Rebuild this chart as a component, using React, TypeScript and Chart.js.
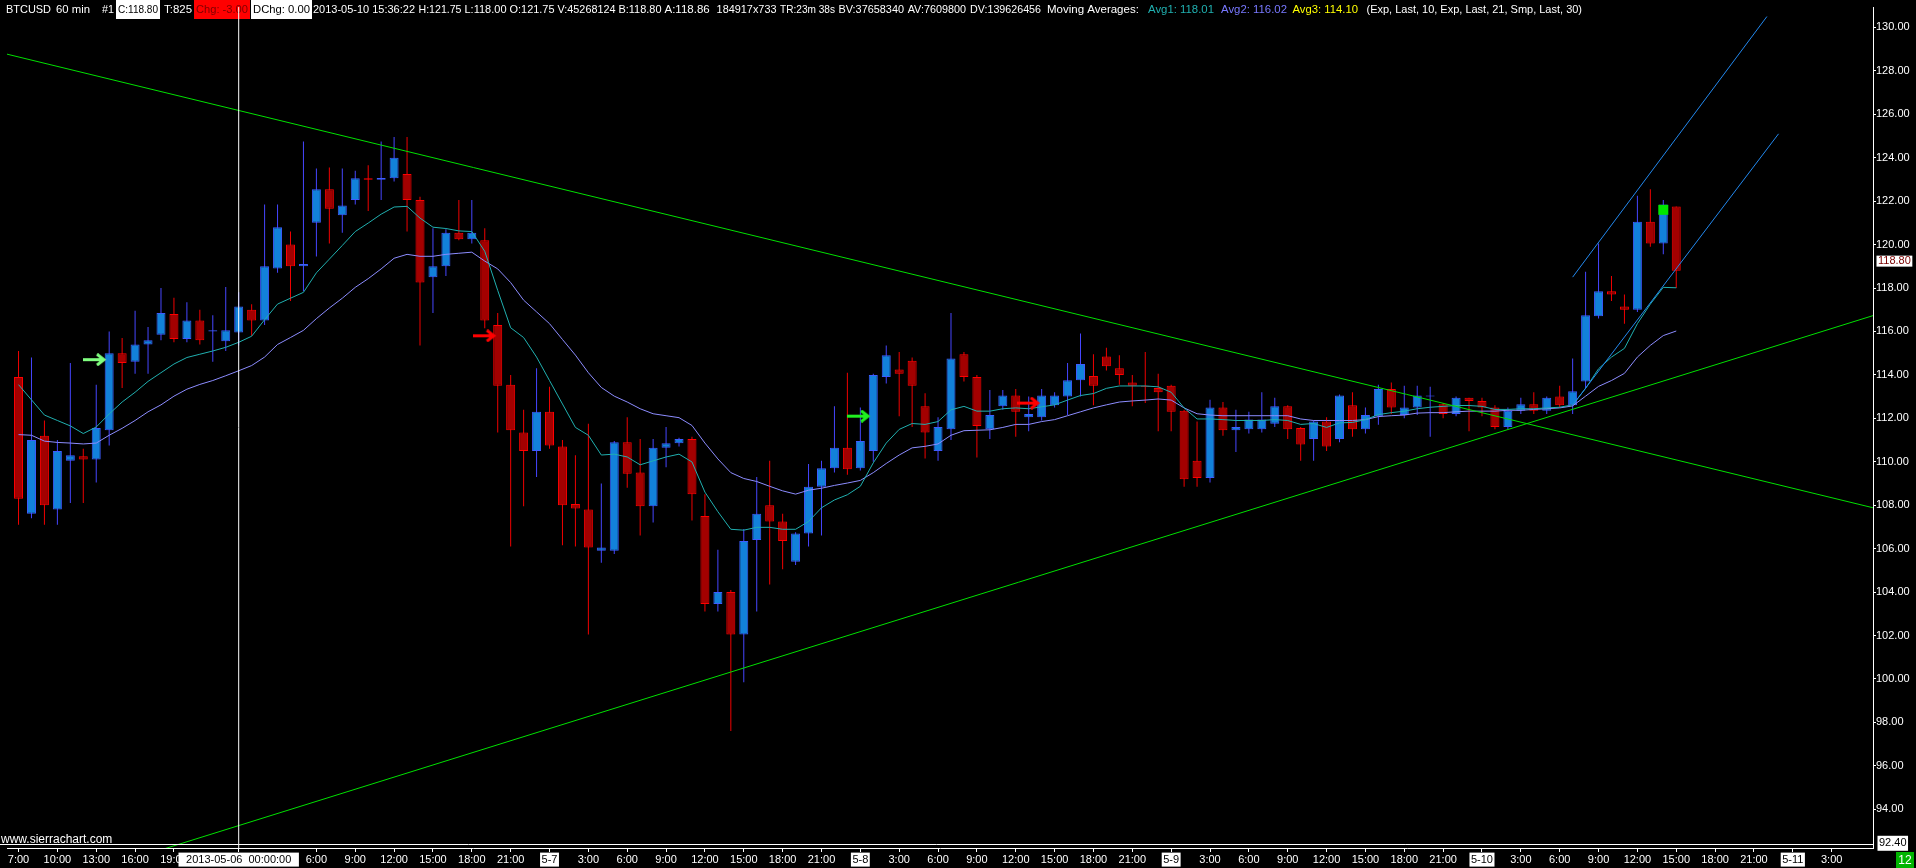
import React, { useEffect, useRef } from 'react';
import { Chart, registerables } from 'chart.js';

Chart.register(...registerables);

// Hourly bars. x = hours counted from 2013-05-06 00:00; first bar is 2013-05-05 07:00
const firstBarHour = -17;

const opens = [
  113.9, 107.6, 111.2, 107.8, 110.05, 110.25, 110.1, 111.45, 115.0, 114.6,
  115.4, 115.85, 116.8, 115.65, 116.5, 116.0, 115.55, 115.95, 117.0, 116.5,
  118.9, 120.0, 119.0, 121.0, 122.55, 121.35, 122.05, 123.05, 122.99, 123.05,
  123.25, 122.05, 118.5, 119.0, 120.55, 120.25, 120.2, 116.3, 113.55, 111.35,
  110.5, 112.3, 110.7, 108.05, 107.8, 105.9, 105.9, 110.9, 109.5, 107.95,
  110.65, 110.85, 111.05, 107.5, 103.45, 104.0, 102.05, 106.4, 108.0, 107.25,
  105.4, 106.7, 108.85, 109.7, 110.65, 109.7, 110.5, 113.9, 114.25, 114.65,
  112.55, 110.5, 111.5, 114.95, 113.9, 111.5, 112.55, 113.05, 112.05, 112.05,
  112.6, 113.0, 113.75, 113.95, 114.85, 114.3, 113.65, 113.5, 113.4, 113.5,
  112.35, 110.05, 109.25, 112.5, 111.45, 111.5, 111.5, 111.75, 112.55, 111.55,
  111.05, 111.85, 111.05, 112.6, 111.5, 112.1, 113.35, 112.15, 112.5, 113.0,
  112.65, 112.2, 112.95, 112.8, 112.5, 111.6, 112.35, 112.65, 112.35, 113.0,
  112.6, 113.7, 116.7, 117.85, 117.15, 117.0, 121.05, 120.05, 121.75,
];
const highs = [
  115.1, 114.8, 111.9, 111.0, 114.55, 110.6, 113.55, 116.0, 115.7, 116.95,
  116.2, 118.0, 117.55, 117.35, 117.0, 116.75, 118.05, 117.8, 117.25, 121.85,
  121.85, 120.6, 124.75, 123.5, 123.55, 123.5, 123.4, 123.65, 124.75, 124.95,
  124.95, 122.2, 120.75, 120.7, 122.05, 122.05, 120.75, 116.85, 114.0, 112.4,
  114.3, 113.45, 111.0, 110.3, 111.75, 109.0, 110.95, 112.05, 111.05, 111.05,
  111.6, 111.1, 111.15, 108.5, 105.95, 104.1, 106.9, 109.3, 110.05, 107.6,
  106.75, 109.9, 110.05, 112.55, 114.1, 112.5, 114.05, 115.35, 115.05, 114.8,
  113.15, 112.05, 116.85, 115.05, 114.0, 113.3, 113.3, 113.35, 113.0, 113.35,
  113.2, 114.55, 115.9, 114.95, 115.25, 114.9, 114.0, 115.05, 114.05, 113.55,
  112.4, 111.85, 112.85, 112.75, 112.4, 112.3, 113.2, 112.95, 112.6, 111.6,
  111.9, 112.05, 113.1, 113.2, 112.5, 113.55, 113.65, 113.5, 113.5, 113.45,
  112.7, 113.0, 112.95, 112.95, 112.6, 112.5, 112.95, 113.2, 113.0, 113.5,
  114.75, 118.75, 120.05, 118.55, 117.7, 122.25, 122.55, 122.05, 121.75,
];
const lows = [
  107.1, 107.4, 107.1, 107.1, 108.1, 108.1, 109.05, 110.75, 113.4, 114.05,
  114.05, 115.6, 115.5, 115.5, 115.4, 114.6, 115.1, 115.35, 115.8, 116.3,
  118.7, 117.4, 117.85, 119.45, 120.05, 120.55, 121.85, 121.55, 122.05, 122.9,
  120.6, 115.35, 116.85, 118.55, 120.2, 120.05, 116.15, 111.35, 106.1, 107.95,
  109.3, 110.6, 106.15, 106.1, 102.05, 105.35, 105.75, 108.8, 106.6, 107.2,
  109.75, 110.7, 107.3, 103.1, 103.1, 97.6, 99.85, 103.1, 104.35, 105.05,
  105.25, 106.1, 106.6, 109.5, 109.4, 109.6, 110.0, 113.6, 112.1, 111.6,
  110.15, 110.05, 111.0, 113.7, 110.2, 111.05, 112.4, 111.15, 111.4, 111.9,
  112.5, 112.15, 113.0, 112.6, 114.2, 113.55, 112.55, 112.7, 111.4, 111.4,
  108.85, 108.85, 109.05, 111.2, 110.45, 111.3, 111.35, 111.6, 111.05, 110.05,
  110.05, 110.5, 110.9, 111.15, 111.3, 111.7, 112.2, 112.0, 112.15, 111.15,
  112.0, 112.1, 111.4, 112.1, 111.5, 111.5, 112.2, 112.2, 112.2, 112.5,
  112.2, 113.4, 116.6, 117.4, 116.35, 116.9, 119.9, 119.55, 118.0,
];
const closes = [
  108.3, 111.0, 108.0, 110.5, 110.3, 110.1, 111.55, 115.0, 114.55, 115.4,
  115.6, 116.85, 115.65, 116.5, 115.6, 116.05, 116.05, 117.15, 116.5, 119.0,
  120.8, 119.0, 119.1, 122.55, 121.65, 121.8, 123.05, 122.99, 123.06, 124.0,
  122.05, 118.25, 119.0, 120.55, 120.25, 120.55, 116.5, 113.5, 111.45, 110.5,
  112.3, 110.75, 108.0, 107.85, 106.05, 106.05, 110.9, 109.45, 107.95, 110.65,
  110.85, 111.05, 108.5, 103.45, 104.0, 102.05, 106.35, 107.6, 107.25, 106.35,
  106.7, 108.85, 109.7, 110.65, 109.65, 110.95, 114.0, 114.9, 114.05, 113.5,
  111.35, 111.6, 114.75, 113.9, 111.65, 112.15, 113.05, 112.3, 112.2, 113.05,
  113.05, 113.75, 114.5, 113.5, 114.4, 114.0, 113.5, 113.45, 113.2, 112.3,
  109.2, 109.25, 112.5, 111.45, 111.6, 111.95, 111.95, 112.55, 111.5, 110.8,
  111.85, 110.7, 113.05, 111.5, 112.15, 113.35, 112.5, 112.5, 113.05, 113.05,
  112.2, 112.95, 112.8, 112.5, 111.6, 112.35, 112.65, 112.35, 112.95, 112.6,
  113.25, 116.75, 117.85, 117.7, 117.0, 121.05, 120.05, 121.85, 118.8,
];

// Avg1: Exp 10 (teal), Avg2: Exp 21 (lavender) per bar
const avg1Values = [
  113.55, 112.85, 112.15, 111.9, 111.65, 111.3, 111.6, 112.2, 112.75, 113.2,
  113.7, 114.1, 114.5, 114.8, 114.95, 115.1, 115.27, 115.5, 115.78, 116.54,
  117.26, 117.53, 117.8, 118.7, 119.33, 119.96, 120.6, 120.99, 121.4, 121.73,
  121.76, 121.22, 120.8, 120.74, 120.63, 120.6, 119.69, 117.89, 116.17, 115.72,
  114.82, 113.74, 112.66, 111.58, 111.22, 110.31, 110.35, 110.22, 109.86, 110.04,
  110.22, 110.35, 109.99, 108.6, 107.7, 106.89, 106.85, 106.98, 106.98, 106.89,
  106.89, 107.25, 107.88, 108.24, 108.48, 108.87, 109.95, 110.86, 111.49, 111.76,
  111.72, 111.85, 112.39, 112.55, 112.33, 112.33, 112.44, 112.48, 112.44, 112.53,
  112.62, 112.84, 113.05, 113.14, 113.38, 113.49, 113.49, 113.49, 113.45, 113.2,
  112.48, 111.97, 111.97, 111.94, 111.9, 111.9, 111.9, 111.94, 111.9, 111.72,
  111.76, 111.58, 111.79, 111.81, 111.94, 112.17, 112.26, 112.33, 112.44, 112.51,
  112.55, 112.59, 112.59, 112.55, 112.41, 112.41, 112.44, 112.44, 112.48, 112.51,
  112.62, 113.38, 114.28, 114.82, 115.22, 116.36, 117.26, 118.03, 118.01,
];
const avg2Values = [
  111.25, 111.22, 110.95, 110.89, 110.86, 110.82, 110.86, 111.22, 111.54, 111.9,
  112.3, 112.62, 113.02, 113.34, 113.56, 113.74, 113.96, 114.19, 114.43, 114.82,
  115.4, 115.72, 116.05, 116.59, 117.08, 117.53, 118.03, 118.43, 118.88, 119.37,
  119.55, 119.46, 119.46, 119.55, 119.6, 119.65, 119.24, 118.88, 118.25, 117.44,
  116.9, 116.36, 115.63, 114.91, 114.1, 113.42, 113.02, 112.75, 112.44, 112.21,
  112.12, 112.03, 111.67, 110.86, 110.13, 109.5, 109.23, 109.09, 108.87, 108.66,
  108.51, 108.69, 108.78, 108.91, 109.02, 109.14, 109.5, 109.92, 110.31, 110.64,
  110.71, 110.82, 111.22, 111.43, 111.45, 111.47, 111.58, 111.72, 111.72, 111.85,
  111.94, 112.12, 112.3, 112.48, 112.62, 112.75, 112.8, 112.84, 112.89, 112.84,
  112.48, 112.21, 112.15, 112.12, 112.12, 112.12, 112.12, 112.12, 112.12, 111.97,
  111.9, 111.9, 111.9, 111.9, 111.94, 112.08, 112.12, 112.15, 112.24, 112.26,
  112.26, 112.3, 112.33, 112.33, 112.33, 112.37, 112.37, 112.41, 112.44, 112.48,
  112.57, 113.02, 113.47, 113.74, 114.07, 114.82, 115.36, 115.81, 116.02,
];

const xTickHours = [
  -17, -14, -11, -8, -5,
  0, 6, 9, 12, 15, 18, 21,
  24, 27, 30, 33, 36, 39, 42, 45,
  48, 51, 54, 57, 60, 63, 66, 69,
  72, 75, 78, 81, 84, 87, 90, 93,
  96, 99, 102, 105, 108, 111, 114, 117,
  120, 123,
];
const xTickLabels = [
  '7:00', '10:00', '13:00', '16:00', '19:00',
  '  2013-05-06  00:00:00  ', '6:00', '9:00', '12:00', '15:00', '18:00', '21:00',
  '5-7', '3:00', '6:00', '9:00', '12:00', '15:00', '18:00', '21:00',
  '5-8', '3:00', '6:00', '9:00', '12:00', '15:00', '18:00', '21:00',
  '5-9', '3:00', '6:00', '9:00', '12:00', '15:00', '18:00', '21:00',
  '5-10', '3:00', '6:00', '9:00', '12:00', '15:00', '18:00', '21:00',
  '5-11', '3:00',
];
const yTickValues = [94, 96, 98, 100, 102, 104, 106, 108, 110, 112, 114, 116, 118, 120, 122, 124, 126, 128, 130];

const descendingTrend = [{ x: -17.9, y: 128.77 }, { x: 126.2, y: 107.88 }];
const ascendingTrend = [{ x: -6.0, y: 92.13 }, { x: 126.2, y: 116.73 }];
const upperChannel = [{ x: 103.0, y: 118.5 }, { x: 118.0, y: 130.5 }];
const lowerChannel = [{ x: 103.0, y: 112.6 }, { x: 118.9, y: 125.1 }];
const buySignals = [{ x: -11.1, y: 114.7 }, { x: 47.9, y: 112.1 }];
const sellSignals = [{ x: 19.0, y: 115.8 }, { x: 61.0, y: 112.7 }];
const highMarker = [{ x: 110, y: 121.6 }];
const cursorHour = 0;
const lastPrice = 118.8;
const bottomPrice = 92.4;
const barCountdown = '12';

const Y_MIN = 92.215;
const Y_MAX = 130.936;
const X_MIN = -232.5 / 13;
const X_MAX = X_MIN + 1873 / 13;

const FONT = '"Liberation Sans", Arial, sans-serif';
const TEAL = '#20b0b0';
const LAV = '#8c8cff';

// header text pieces: start x and right limit
const headerItems: { t: string; x: number; end: number; c?: string; bg?: string }[] = [
  { t: 'BTCUSD', x: 6, end: 51 },
  { t: '60 min', x: 56, end: 90 },
  { t: '#1', x: 102, end: 114 },
  { t: 'C:118.80', x: 118, end: 158, c: '#000', bg: '#fff' },
  { t: 'T:825', x: 164, end: 192 },
  { t: 'Chg: -3.00', x: 196, end: 248, c: '#7f0000', bg: '#ff0000' },
  { t: 'DChg: 0.00', x: 253, end: 310, c: '#000', bg: '#fff' },
  { t: '2013-05-10 15:36:22', x: 313, end: 415 },
  { t: 'H:121.75', x: 418.5, end: 461.5 },
  { t: 'L:118.00', x: 464.5, end: 506.5 },
  { t: 'O:121.75', x: 509.5, end: 554.5 },
  { t: 'V:45268124', x: 557.5, end: 615.5 },
  { t: 'B:118.80', x: 618.5, end: 661.5 },
  { t: 'A:118.86', x: 664.5, end: 713.5 },
  { t: '184917x733', x: 716.6, end: 776.5 },
  { t: 'TR:23m 38s', x: 780, end: 835 },
  { t: 'BV:37658340', x: 838.5, end: 904 },
  { t: 'AV:7609800', x: 907.7, end: 966 },
  { t: 'DV:139626456', x: 970, end: 1041 },
  { t: 'Moving Averages:', x: 1047, end: 1142 },
  { t: 'Avg1: 118.01', x: 1148, end: 1214, c: TEAL },
  { t: 'Avg2: 116.02', x: 1221, end: 1287, c: '#7878ff' },
  { t: 'Avg3: 114.10', x: 1292.5, end: 1358, c: '#ffff00' },
  { t: '(Exp, Last, 10, Exp, Last, 21, Smp, Last, 30)', x: 1366.5, end: 1582 },
];

function makeArrow(color: string) {
  const c = document.createElement('canvas');
  c.width = 24;
  c.height = 13;
  const g = c.getContext('2d')!;
  g.fillStyle = color;
  g.strokeStyle = color;
  g.fillRect(0, 5, 19, 3);
  g.lineWidth = 3;
  g.beginPath();
  g.moveTo(14, 1);
  g.lineTo(21, 6.5);
  g.lineTo(14, 12);
  g.stroke();
  return c;
}

const overlayPlugin = {
  id: 'sierraOverlay',
  beforeDraw(chart: any) {
    const { ctx, width, height } = chart;
    ctx.save();
    ctx.fillStyle = '#000';
    ctx.fillRect(0, 0, width, height);
    ctx.restore();
  },
  beforeDatasetsDraw(chart: any) {
    const ctx = chart.ctx;
    ctx.save();
    ctx.font = `11.5px ${FONT}`;
    ctx.textBaseline = 'middle';
    for (const it of headerItems) {
      const w = ctx.measureText(it.t).width;
      const avail = it.end - it.x;
      const sx = Math.min(1, avail / w);
      if (it.bg) {
        ctx.fillStyle = it.bg;
        ctx.fillRect(it.x - 2, 0, Math.min(w, avail) + 4, 19);
      }
      ctx.fillStyle = it.c || '#ffffff';
      ctx.save();
      ctx.translate(it.x, 10);
      ctx.scale(sx, 1);
      ctx.fillText(it.t, 0, 0);
      ctx.restore();
    }
    ctx.restore();
  },
  afterDraw(chart: any) {
    const { ctx, chartArea, scales } = chart;
    const ys = scales.y;
    ctx.save();
    ctx.strokeStyle = '#ffffff';
    ctx.lineWidth = 1;
    ctx.beginPath();
    ctx.moveTo(0, chartArea.bottom - 3.5);
    ctx.lineTo(chartArea.right + 0.5, chartArea.bottom - 3.5);
    ctx.stroke();

    ctx.font = `12px ${FONT}`;
    const site = 'www.sierrachart.com';
    const sw = ctx.measureText(site).width;
    ctx.fillStyle = '#000';
    ctx.fillRect(0, chartArea.bottom - 17, sw + 3, 13);
    ctx.fillStyle = '#ffffff';
    ctx.textBaseline = 'alphabetic';
    ctx.fillText(site, 1, chartArea.bottom - 5);

    ctx.font = `11px ${FONT}`;
    ctx.textBaseline = 'middle';
    const lp = lastPrice.toFixed(2);
    const ly = ys.getPixelForValue(lastPrice) - 9.5;
    const lw = ctx.measureText(lp).width;
    ctx.fillStyle = '#ffffff';
    ctx.fillRect(chartArea.right + 3.5, ly - 5.5, lw + 3, 11);
    ctx.fillStyle = '#7a0000';
    ctx.fillText(lp, chartArea.right + 5, ly);

    const bp = bottomPrice.toFixed(2);
    const by = ys.getPixelForValue(bottomPrice) - 0.7;
    const bw = ctx.measureText(bp).width;
    ctx.fillStyle = '#ffffff';
    ctx.fillRect(chartArea.right + 4.5, by - 7.5, bw + 3, 15);
    ctx.fillStyle = '#000000';
    ctx.fillText(bp, chartArea.right + 6, by);

    ctx.fillStyle = '#00b400';
    ctx.fillRect(1896, 852, 18, 16);
    ctx.fillStyle = '#ffffff';
    ctx.font = `12px ${FONT}`;
    ctx.textAlign = 'center';
    ctx.fillText(barCountdown, 1905, 860.5);
    ctx.restore();
  },
};

export default function App() {
  const ref = useRef<HTMLCanvasElement>(null);
  useEffect(() => {
    document.body.style.margin = '0';
    document.body.style.background = '#000';
    const canvas = ref.current!;
    const barHours = opens.map((_, i) => firstBarHour + i);
    const up = opens.map((o, i) => closes[i] >= o);
    const bodies = barHours.map((h, i) => ({ x: h, y: [opens[i], closes[i]] }));
    const wicks = barHours.map((h, i) => ({ x: h, y: [lows[i], highs[i]] }));
    const ma1 = barHours.map((h, i) => ({ x: h, y: avg1Values[i] }));
    const ma2 = barHours.map((h, i) => ({ x: h, y: avg2Values[i] }));
    const labelFor = new Map<number, string>();
    xTickHours.forEach((h, i) => labelFor.set(h, xTickLabels[i]));
    const boxed = (v: any) => /-/.test(labelFor.get(v) || '');
    const buyArrows = [makeArrow('#80ff80'), makeArrow('#20f020')];
    const sellArrow = makeArrow('#ff0000');

    const lineBase = { type: 'line', pointRadius: 0, borderWidth: 1, tension: 0, fill: false };

    const chart = new Chart(canvas, {
      type: 'bar',
      data: {
        datasets: [
          {
            type: 'line', data: [{ x: cursorHour, y: Y_MIN }, { x: cursorHour, y: Y_MAX }],
            borderColor: '#ffffff', borderWidth: 1, pointRadius: 0, order: -2,
          } as any,
          { ...lineBase, data: buySignals, showLine: false, pointStyle: buyArrows, pointRadius: 6, order: -1 } as any,
          { ...lineBase, data: sellSignals, showLine: false, pointStyle: sellArrow, pointRadius: 6, order: -1 } as any,
          {
            ...lineBase, data: highMarker, showLine: false, pointStyle: 'rect', pointRadius: 7.07,
            pointBackgroundColor: '#00e600', pointBorderWidth: 0, order: -1,
          } as any,
          { ...lineBase, data: descendingTrend, borderColor: '#00e000', order: 0 } as any,
          { ...lineBase, data: ascendingTrend, borderColor: '#00e000', order: 0 } as any,
          { ...lineBase, data: upperChannel, borderColor: '#2288ee', order: 0 } as any,
          { ...lineBase, data: lowerChannel, borderColor: '#2288ee', order: 0 } as any,
          { ...lineBase, data: ma1, borderColor: TEAL, order: 1 } as any,
          { ...lineBase, data: ma2, borderColor: LAV, order: 1 } as any,
          {
            type: 'bar', data: bodies, grouped: false, maxBarThickness: 9, minBarLength: 1,
            backgroundColor: up.map((u) => (u ? '#1281da' : '#a30000')),
            borderColor: up.map((u) => (u ? '#3d5cff' : '#ff0000')),
            borderWidth: 1, borderSkipped: false, inflateAmount: 0, order: 2,
          } as any,
          {
            type: 'bar', data: wicks, grouped: false, maxBarThickness: 1,
            backgroundColor: up.map((u) => (u ? '#4646ff' : '#f00000')),
            borderWidth: 0, inflateAmount: 0, order: 3,
          } as any,
        ],
      },
      options: {
        animation: false,
        responsive: false,
        maintainAspectRatio: false,
        devicePixelRatio: 1,
        layout: { padding: 0 },
        events: [],
        plugins: { legend: { display: false }, tooltip: { enabled: false } },
        scales: {
          x: {
            type: 'linear',
            min: X_MIN,
            max: X_MAX,
            offset: false,
            afterFit(s: any) {
              s.height = 20;
              s.paddingLeft = 0;
              s.paddingRight = 0;
            },
            afterBuildTicks(s: any) {
              s.ticks = xTickHours.map((v) => ({ value: v }));
            },
            grid: { offset: false, drawOnChartArea: false, drawTicks: true, tickLength: 4, color: '#ffffff' },
            border: { display: true, color: '#ffffff', width: 1 },
            ticks: {
              autoSkip: false,
              maxRotation: 0,
              minRotation: 0,
              padding: 1,
              font: { family: FONT, size: 11, lineHeight: 1.2 },
              callback: (v: any) => labelFor.get(Number(v)) ?? '',
              color: (c: any) => (boxed(c.tick?.value) ? '#000000' : '#ffffff'),
              showLabelBackdrop: (c: any) => boxed(c.tick?.value),
              backdropColor: '#ffffff',
              backdropPadding: { left: 1.5, right: 1.5, top: 0.4, bottom: 0.4 },
            },
          },
          y: {
            type: 'linear',
            position: 'right',
            min: Y_MIN,
            max: Y_MAX,
            afterFit(s: any) {
              s.width = 43;
              s.paddingTop = 0;
              s.paddingBottom = 0;
            },
            afterBuildTicks(s: any) {
              s.ticks = yTickValues.map((v) => ({ value: v }));
            },
            grid: { drawOnChartArea: false, drawTicks: true, tickLength: 3, color: '#ffffff' },
            border: { display: true, color: '#ffffff', width: 1 },
            ticks: {
              autoSkip: false,
              padding: 0,
              crossAlign: 'near',
              color: '#ffffff',
              font: { family: FONT, size: 11, lineHeight: 1 },
              callback: (v: any) => Number(v).toFixed(2),
            },
          },
        },
      } as any,
      plugins: [overlayPlugin as any],
    });
    return () => chart.destroy();
  }, []);

  return (
    <div style={{ width: 1916, height: 868, background: '#000' }}>
      <canvas ref={ref} width={1916} height={868} style={{ display: 'block', width: 1916, height: 868 }} />
    </div>
  );
}
